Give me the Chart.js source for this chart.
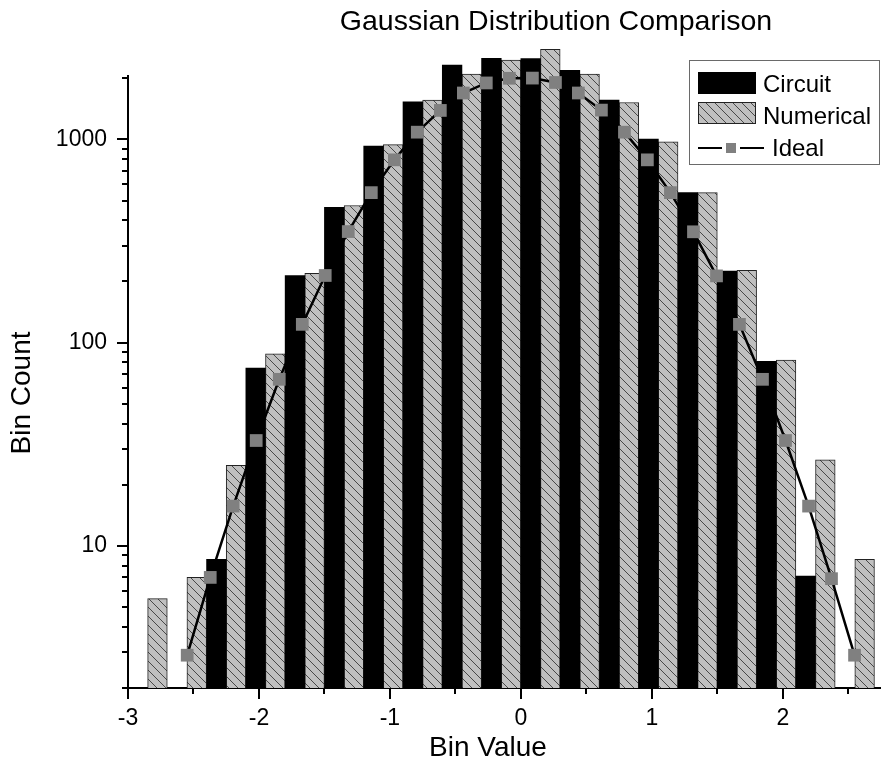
<!DOCTYPE html>
<html>
<head>
<meta charset="utf-8">
<style>
html,body{margin:0;padding:0;background:#fff;}
canvas{display:block;}
</style>
<script src="https://cdn.jsdelivr.net/npm/chart.js@4.4.1/dist/chart.umd.min.js"></script>
</head>
<body>
<canvas id="c" width="881" height="766"></canvas>
<script>
// ---------- data ----------
const binCenters = [-2.85, -2.55, -2.25, -1.95, -1.65, -1.35, -1.05, -0.75, -0.45, -0.15, 0.15, 0.45, 0.75, 1.05, 1.35, 1.65, 1.95, 2.25, 2.55];
const circuitCounts = [null, null, 8.6, 75, 214, 463, 926, 1531, 2323, 2502, 2494, 2183, 1561, 1002, 547, 225, 81, 7.1, null];
const numericalCounts = [5.5, 7.0, 24.9, 88, 219, 473, 942, 1561, 2096, 2457, 2774, 2096, 1518, 972, 547, 227, 82, 26.5, 8.6];
const idealX = [-2.548, -2.372, -2.197, -2.021, -1.845, -1.669, -1.494, -1.318, -1.142, -0.966, -0.791, -0.615, -0.439, -0.264, -0.088,
                0.088, 0.264, 0.439, 0.615, 0.791, 0.966, 1.142, 1.318, 1.494, 1.669, 1.845, 2.021, 2.197, 2.372, 2.548];
const idealCounts = [2.9, 7.0, 15.7, 33, 66, 123, 214, 352, 547, 793, 1085, 1388, 1691, 1895, 1998,
                     2002, 1905, 1691, 1393, 1085, 793, 547, 351, 213, 123, 66, 33, 15.7, 6.9, 2.9];
const xMajorTicks = [-3, -2, -1, 0, 1, 2];
const xMinorTicks = [-2.5, -1.5, -0.5, 0.5, 1.5, 2.5];
const yMajorTicks = [10, 100, 1000];
const yMinorTicks = [2, 3, 4, 5, 6, 7, 8, 9, 20, 30, 40, 50, 60, 70, 80, 90, 200, 300, 400, 500, 600, 700, 800, 900, 2000];
const seriesNames = ['Circuit', 'Numerical', 'Ideal'];
const titleText = 'Gaussian Distribution Comparison';
const xTitleText = 'Bin Value';
const yTitleText = 'Bin Count';

// ---------- styling ----------
const FONT = '"Liberation Sans", Arial, Helvetica, sans-serif';
Chart.defaults.font.family = FONT;
Chart.defaults.color = '#000';

const canvas = document.getElementById('c');
const ctx0 = canvas.getContext('2d');

function makeHatch(ctx) {
  const s = 9;
  const c = document.createElement('canvas');
  c.width = s; c.height = s;
  const g = c.getContext('2d');
  g.fillStyle = '#c0c0c0';
  g.fillRect(0, 0, s, s);
  g.strokeStyle = '#3a3a3a';
  g.lineWidth = 0.9;
  g.beginPath();
  g.moveTo(-1, -1); g.lineTo(s + 1, s + 1);
  g.moveTo(-1, s - 1); g.lineTo(1, s + 1);
  g.moveTo(s - 1, -1); g.lineTo(s + 1, 1);
  g.stroke();
  return ctx.createPattern(c, 'repeat');
}
const hatch = makeHatch(ctx0);

// ticks, titles and legend drawn on top
const decorations = {
  id: 'decorations',
  afterDraw(chart) {
    const { ctx, chartArea, scales: { x, y } } = chart;
    ctx.save();
    // tick marks
    ctx.strokeStyle = '#000';
    ctx.lineWidth = 2;
    ctx.beginPath();
    const b = chartArea.bottom, l = chartArea.left;
    xMajorTicks.forEach(v => { const p = Math.round(x.getPixelForValue(v)); ctx.moveTo(p, b); ctx.lineTo(p, b + 11); });
    xMinorTicks.forEach(v => { const p = Math.round(x.getPixelForValue(v)); ctx.moveTo(p, b); ctx.lineTo(p, b + 6); });
    yMajorTicks.forEach(v => { const p = Math.round(y.getPixelForValue(v)); ctx.moveTo(l, p); ctx.lineTo(l - 11, p); });
    yMinorTicks.forEach(v => { const p = Math.round(y.getPixelForValue(v)); ctx.moveTo(l, p); ctx.lineTo(l - 6, p); });
    ctx.stroke();

    // titles
    ctx.fillStyle = '#000';
    ctx.textAlign = 'center';
    ctx.textBaseline = 'alphabetic';
    ctx.font = '28.5px ' + FONT;
    ctx.fillText(titleText, 556, 30);
    ctx.font = '28px ' + FONT;
    ctx.textBaseline = 'middle';
    ctx.fillText(xTitleText, 488, 748);
    ctx.save();
    ctx.translate(22, 393);
    ctx.rotate(-Math.PI / 2);
    ctx.fillText(yTitleText, 0, 0);
    ctx.restore();

    // legend
    const bx = 689.5, by = 60.5, bw = 190, bh = 104;
    ctx.fillStyle = '#fff';
    ctx.fillRect(bx, by, bw, bh);
    ctx.strokeStyle = '#6a6a6a';
    ctx.lineWidth = 1;
    ctx.strokeRect(bx, by, bw, bh);
    const ds = chart.data.datasets;
    // Circuit
    ctx.fillStyle = ds[0].backgroundColor;
    ctx.fillRect(698, 72, 58, 22);
    // Numerical
    ctx.fillStyle = ds[1].backgroundColor;
    ctx.fillRect(698, 102, 58, 22);
    ctx.strokeStyle = '#222';
    ctx.strokeRect(698.5, 102.5, 57, 21);
    // Ideal
    ctx.strokeStyle = '#000';
    ctx.lineWidth = 2;
    ctx.beginPath();
    ctx.moveTo(698, 148); ctx.lineTo(722, 148);
    ctx.moveTo(740, 148); ctx.lineTo(764, 148);
    ctx.stroke();
    ctx.fillStyle = ds[2].pointBackgroundColor;
    ctx.fillRect(726, 143, 10, 10);
    ctx.fillStyle = '#000';
    ctx.textAlign = 'left';
    ctx.textBaseline = 'alphabetic';
    ctx.font = '24px ' + FONT;
    ctx.fillText(ds[0].label, 763, 92);
    ctx.fillText(ds[1].label, 763, 124);
    ctx.fillText(ds[2].label, 772, 156);
    ctx.restore();
  }
};

new Chart(canvas, {
  type: 'bar',
  data: {
    datasets: [
      {
        type: 'bar',
        label: seriesNames[0],
        data: binCenters.map((x, i) => ({ x, y: circuitCounts[i] })),
        backgroundColor: '#000',
        borderWidth: 0,
        categoryPercentage: 1,
        barPercentage: 1,
        order: 1,
        clip: false
      },
      {
        type: 'bar',
        label: seriesNames[1],
        data: binCenters.map((x, i) => ({ x, y: numericalCounts[i] })),
        backgroundColor: hatch,
        borderColor: '#222',
        borderWidth: 1,
        categoryPercentage: 1,
        barPercentage: 1,
        order: 1,
        clip: false
      },
      {
        type: 'line',
        label: seriesNames[2],
        data: idealX.map((x, i) => ({ x, y: idealCounts[i] })),
        borderColor: '#000',
        borderWidth: 2.5,
        tension: 0,
        pointStyle: 'rect',
        pointRadius: 9,
        pointHoverRadius: 9,
        pointBackgroundColor: '#808080',
        pointBorderColor: '#808080',
        pointBorderWidth: 0,
        order: 0,
        clip: false
      }
    ]
  },
  options: {
    responsive: false,
    animation: false,
    devicePixelRatio: 1,
    events: [],
    layout: { autoPadding: false, padding: { top: 76, left: 0, right: 0, bottom: 0 } },
    plugins: {
      legend: { display: false },
      title: { display: false },
      tooltip: { enabled: false }
    },
    scales: {
      x: {
        type: 'linear',
        position: 'bottom',
        min: -3,
        max: 2.75,
        offset: false,
        z: 1,
        afterBuildTicks: s => { s.ticks = xMajorTicks.map(v => ({ value: v })); },
        afterFit: s => { s.height = 78; s.paddingLeft = 0; s.paddingRight = 0; },
        grid: { display: false, drawTicks: false, offset: false },
        border: { display: true, color: '#000', width: 2 },
        ticks: {
          padding: 17,
          color: '#000',
          font: { size: 23 },
          autoSkip: false,
          maxRotation: 0,
          callback: v => String(v)
        }
      },
      y: {
        type: 'logarithmic',
        position: 'left',
        min: 2,
        max: 2050,
        z: 1,
        afterBuildTicks: s => { s.ticks = yMajorTicks.map(v => ({ value: v })); },
        afterFit: s => { s.width = 128; s.paddingTop = 0; s.paddingBottom = 0; },
        grid: { display: false, drawTicks: false },
        border: { display: true, color: '#000', width: 2 },
        ticks: {
          padding: 21,
          color: '#000',
          font: { size: 23 },
          autoSkip: false,
          callback: v => String(v)
        }
      }
    }
  },
  plugins: [decorations]
});
</script>
</body>
</html>
